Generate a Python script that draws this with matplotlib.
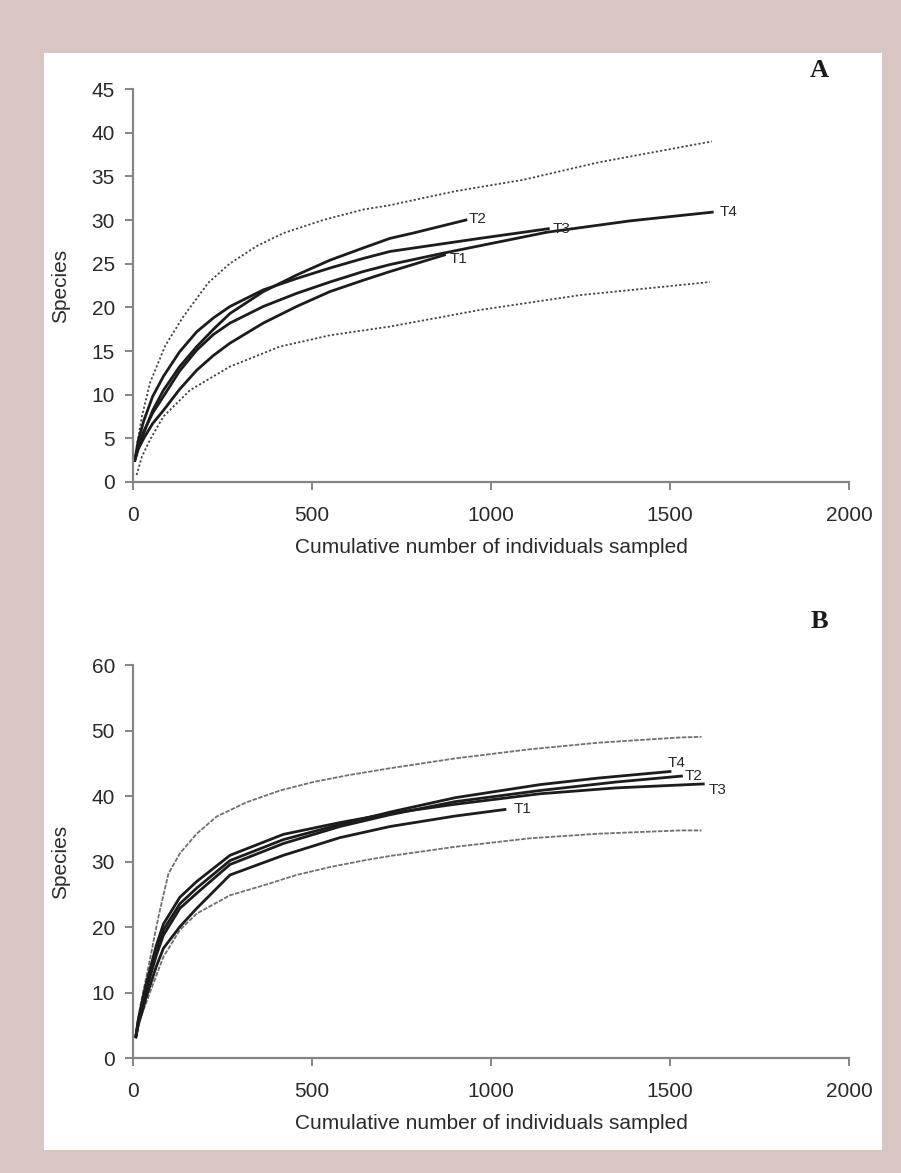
import matplotlib
matplotlib.use("Agg")
import matplotlib.pyplot as plt
from matplotlib.patches import Rectangle

# ---- panel A: rarefaction curves + 95% bounds ----
a_t1_x = [5, 15, 30, 55, 85, 130, 178, 225, 271, 364, 457, 550, 643, 718, 870]
a_t1_y = [2.5, 3.8, 5.0, 6.7, 8.2, 10.6, 12.8, 14.5, 15.9, 18.2, 20.1, 21.8, 23.1, 24.1, 26.0]
a_t2_x = [5, 15, 30, 55, 85, 130, 178, 225, 271, 364, 457, 550, 643, 718, 782, 930]
a_t2_y = [2.5, 4.0, 5.6, 8.2, 10.5, 13.2, 15.5, 17.5, 19.3, 21.8, 23.7, 25.4, 26.8, 27.9, 28.5, 30.0]
a_t3_x = [5, 15, 30, 55, 85, 130, 178, 225, 271, 364, 457, 550, 643, 718, 969, 1160]
a_t3_y = [2.5, 4.8, 7.0, 9.8, 12.1, 14.9, 17.2, 18.8, 20.1, 22.0, 23.3, 24.5, 25.6, 26.4, 27.9, 29.0]
a_t4_x = [5, 15, 30, 55, 85, 130, 178, 225, 271, 364, 457, 550, 643, 718, 866, 1156, 1388, 1618]
a_t4_y = [2.5, 4.1, 5.8, 7.9, 9.8, 12.7, 15.1, 16.9, 18.2, 20.1, 21.6, 22.9, 24.1, 24.9, 26.2, 28.6, 29.9, 30.9]
a_up_x = [10, 25, 47, 90, 140, 210, 270, 345, 420, 531, 643, 718, 900, 1090, 1300, 1617]
a_up_y = [4.0, 7.5, 11.3, 15.6, 18.9, 22.8, 25.0, 27.0, 28.5, 30.0, 31.2, 31.7, 33.3, 34.6, 36.6, 39.0]
a_lo_x = [10, 25, 47, 85, 159, 270, 410, 550, 718, 969, 1249, 1612]
a_lo_y = [0.8, 2.9, 4.8, 7.5, 10.5, 13.2, 15.5, 16.8, 17.8, 19.7, 21.4, 22.9]

# ---- panel B ----
b_t1_x = [8, 15, 25, 35, 47, 65, 85, 131, 178, 271, 420, 578, 718, 900, 1039]
b_t1_y = [3.3, 5.2, 7.0, 9.0, 11.0, 14.0, 16.8, 20.1, 22.9, 28.0, 31.0, 33.7, 35.4, 37.0, 38.0]
b_t2_x = [8, 15, 25, 35, 47, 65, 85, 131, 178, 271, 420, 578, 718, 900, 1137, 1350, 1532]
b_t2_y = [3.3, 5.5, 7.6, 9.9, 12.3, 15.7, 18.8, 22.9, 25.2, 29.6, 32.8, 35.4, 37.2, 39.2, 40.9, 42.2, 43.1]
b_t3_x = [8, 15, 25, 35, 47, 65, 85, 131, 178, 271, 420, 578, 718, 900, 1137, 1350, 1593]
b_t3_y = [3.3, 6.0, 8.5, 11.0, 13.5, 17.2, 20.5, 24.6, 27.0, 31.0, 34.2, 36.0, 37.4, 38.8, 40.4, 41.3, 41.9]
b_t4_x = [8, 15, 25, 35, 47, 65, 85, 131, 178, 271, 420, 578, 718, 900, 1137, 1300, 1500]
b_t4_y = [3.3, 5.8, 8.0, 10.4, 12.8, 16.4, 19.6, 23.6, 26.0, 30.2, 33.4, 35.7, 37.6, 39.8, 41.8, 42.8, 43.8]
b_up_x = [8, 20, 47, 71, 99, 131, 178, 233, 317, 411, 504, 597, 718, 900, 1109, 1300, 1528, 1588]
b_up_y = [3.5, 7.9, 15.0, 21.6, 28.2, 31.3, 34.3, 36.9, 39.1, 40.9, 42.2, 43.2, 44.3, 45.8, 47.2, 48.2, 49.0, 49.1]
b_lo_x = [8, 20, 47, 85, 131, 178, 271, 364, 457, 550, 643, 718, 900, 1109, 1300, 1528, 1588]
b_lo_y = [3.0, 6.0, 10.0, 15.5, 19.6, 22.1, 24.9, 26.4, 28.0, 29.2, 30.2, 30.9, 32.3, 33.6, 34.3, 34.8, 34.8]

labels = ["T1", "T2", "T3", "T4"]
x_ticks = [0, 500, 1000, 1500, 2000]
a_y_ticks = list(range(0, 46, 5))
b_y_ticks = list(range(0, 61, 10))

# label offsets (points) from each curve's end
a_offsets = [(4, -3), (2, 1), (3, 0), (5, 0)]
b_offsets = [(6, 0), (2, 0), (4, -4), (-2, 6)]

plt.rcParams['font.family'] = ['Liberation Sans', 'DejaVu Sans']

BG = "#d7c6c2"
LINE = "#1c1c1c"
AXC = "#858585"
TXT = "#2a2a2a"

fig = plt.figure(figsize=(9.01, 11.73), dpi=100, facecolor=BG)
fig.patches.append(Rectangle((0.0488, 0.0196), 0.9302, 0.9352, transform=fig.transFigure,
                             facecolor="white", edgecolor="none", zorder=-10))


def style_axes(ax, yticks, ymax):
    ax.set_xlim(0, 2000)
    ax.set_ylim(0, ymax)
    ax.set_xticks(x_ticks)
    ax.set_yticks(yticks)
    ax.set_facecolor("none")
    for s in ["top", "right"]:
        ax.spines[s].set_visible(False)
    for s in ["left", "bottom"]:
        ax.spines[s].set_color(AXC)
        ax.spines[s].set_linewidth(1.6)
    ax.tick_params(axis="both", colors=AXC, labelcolor=TXT, labelsize=15, width=1.4, length=6)
    ax.tick_params(axis="y", pad=7)
    ax.tick_params(axis="x", pad=11)
    ax.set_ylabel("Species", fontsize=15, color=TXT)
    ax.set_xlabel("Cumulative number of individuals sampled", fontsize=15, color=TXT)
    ax.yaxis.set_label_coords(-0.088, 0.5)
    # label sits ~66 px under the axis line
    ax.xaxis.set_label_coords(0.5, -56 / (ax.get_position().height * 1173))


# panel A
axA = fig.add_axes([0.1476, 0.5891, 0.7947, 0.335])
axA.plot(a_up_x, a_up_y, color="#444444", lw=1.3, ls=(0, (1.2, 1.2)))
axA.plot(a_lo_x, a_lo_y, color="#444444", lw=1.3, ls=(0, (1.2, 1.2)))
a_curves = [(a_t1_x, a_t1_y), (a_t2_x, a_t2_y), (a_t3_x, a_t3_y), (a_t4_x, a_t4_y)]
for (xs, ys), lab, off in zip(a_curves, labels, a_offsets):
    axA.plot(xs, ys, color=LINE, lw=2.0, solid_joinstyle="round")
    axA.annotate(lab, (xs[-1], ys[-1]), xytext=off, textcoords="offset points",
                 ha="left", va="center", fontsize=11, color=TXT)
style_axes(axA, a_y_ticks, 45)
axA.text(0.959, 1.046, "A", transform=axA.transAxes, fontsize=19, fontweight="bold",
         family="Liberation Serif", color="#1a1a1a", ha="center", va="center")

# panel B
axB = fig.add_axes([0.1476, 0.0978, 0.7947, 0.3349])
axB.plot(b_up_x, b_up_y, color="#707070", lw=1.3, ls=(0, (2.5, 0.8)))
axB.plot(b_lo_x, b_lo_y, color="#707070", lw=1.3, ls=(0, (2.5, 0.8)))
b_curves = [(b_t1_x, b_t1_y), (b_t2_x, b_t2_y), (b_t3_x, b_t3_y), (b_t4_x, b_t4_y)]
for (xs, ys), lab, off in zip(b_curves, labels, b_offsets):
    axB.plot(xs, ys, color=LINE, lw=2.0, solid_joinstyle="round")
    axB.annotate(lab, (xs[-1], ys[-1]), xytext=off, textcoords="offset points",
                 ha="left", va="center", fontsize=11, color=TXT)
style_axes(axB, b_y_ticks, 60)
axB.text(0.959, 1.111, "B", transform=axB.transAxes, fontsize=19, fontweight="bold",
         family="Liberation Serif", color="#1a1a1a", ha="center", va="center")

fig.savefig("out.png", dpi=100, facecolor=BG)
